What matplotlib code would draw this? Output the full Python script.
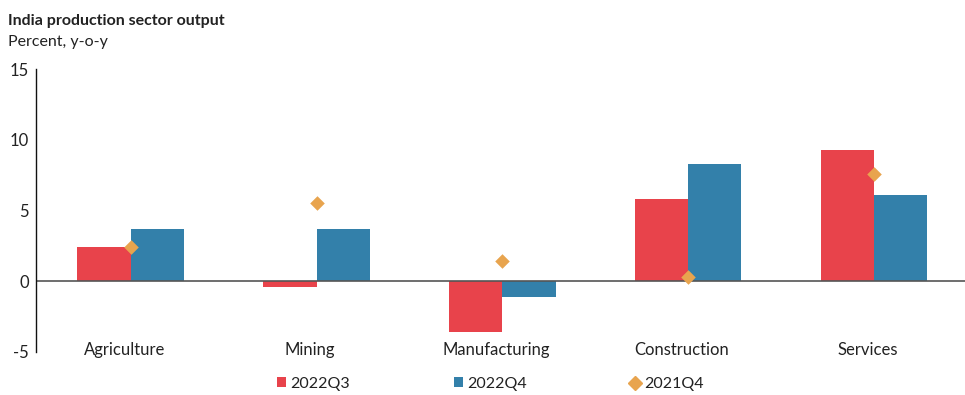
import matplotlib.pyplot as plt
from matplotlib.lines import Line2D
from matplotlib.patches import Patch
import numpy as np

plt.rcParams['font.family'] = ['Lato', 'DejaVu Sans']

sectors = ["Agriculture", "Mining", "Manufacturing", "Construction", "Services"]
q3_2022 = [2.4, -0.4, -3.6, 5.8, 9.3]
q4_2022 = [3.7, 3.7, -1.1, 8.3, 6.1]
q4_2021 = [2.4, 5.5, 1.4, 0.3, 7.6]

red = "#e8434b"
blue = "#3380aa"
orange = "#e8a44e"

fig = plt.figure(figsize=(9.65, 3.95), dpi=100)
ax = fig.add_axes([0.0373, 0.1096, 0.9627, 0.7157])

x = np.arange(len(sectors))
w = 0.287
ax.bar(x - w / 2, q3_2022, width=w, color=red)
ax.bar(x + w / 2, q4_2022, width=w, color=blue)
ax.scatter(x, q4_2021, marker="D", s=55, color=orange, zorder=3, linewidths=0)

ax.axhline(0, color="#555555", lw=1.2, zorder=2)

ax.set_xlim(-0.51, 4.49)
ax.set_ylim(-5, 15)
ax.set_yticks([-5, 0, 5, 10, 15])
ax.set_yticklabels(["-5", "0", "5", "10", "15"])
ax.set_xticks(x - 0.035)
ax.set_xticklabels(sectors)
ax.tick_params(axis="y", length=0, pad=5, labelsize=12, colors="#222222")
ax.tick_params(axis="x", length=0, pad=-7, labelsize=12, colors="#222222")

for s in ["top", "right", "bottom"]:
    ax.spines[s].set_visible(False)
ax.spines["left"].set_color("#111111")
ax.spines["left"].set_linewidth(1.0)

fig.text(0.008, 0.947, "India production sector output", fontsize=11.5,
         fontweight="bold", color="#222222", va="center")
fig.text(0.008, 0.893, "Percent, y-o-y", fontsize=11.5, color="#222222", va="center")

handles = [
    Patch(facecolor=red, label="2022Q3"),
    Patch(facecolor=blue, label="2022Q4"),
    Line2D([], [], marker="D", ls="", color=orange, markersize=7, label="2021Q4"),
]
fig.legend(handles=handles, loc="center", bbox_to_anchor=(0.508, 0.028), ncol=3,
           frameon=False, fontsize=11.5, handlelength=0.6, handleheight=0.6,
           handletextpad=0.25, columnspacing=6.5, labelcolor="#222222")

fig.savefig("out.png", dpi=100)
